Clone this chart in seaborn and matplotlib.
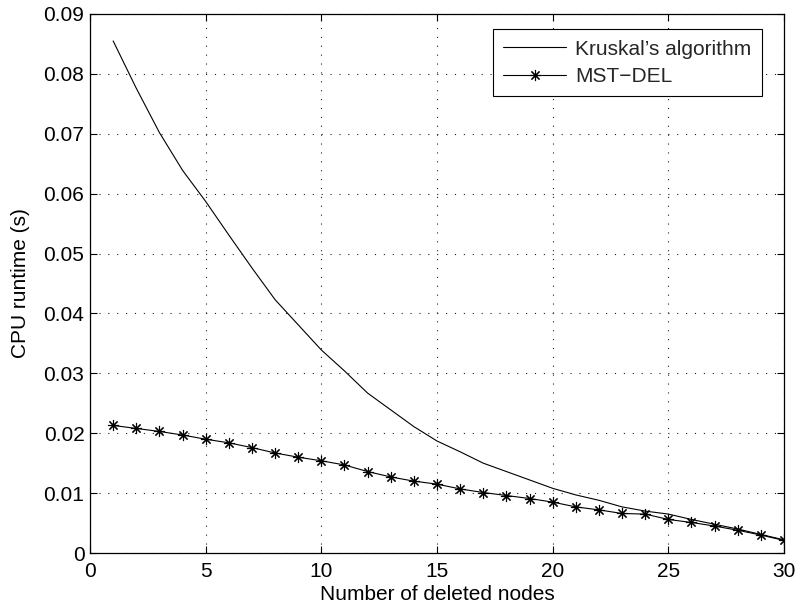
import matplotlib
matplotlib.use("Agg")
import matplotlib.pyplot as plt
import matplotlib.ticker as mticker
import seaborn as sns
import pandas as pd

nodes = list(range(1, 31))
kruskal = [0.0855, 0.0776, 0.0702, 0.0639, 0.0587, 0.0531, 0.0476, 0.0423, 0.0381, 0.0339,
           0.0304, 0.0267, 0.0239, 0.0211, 0.0187, 0.0169, 0.0150, 0.0136, 0.0122, 0.0108,
           0.0097, 0.0088, 0.0077, 0.0070, 0.0065, 0.0056, 0.0048, 0.0040, 0.0031, 0.0022]
mstdel = [0.0213, 0.0208, 0.0203, 0.0197, 0.0190, 0.0184, 0.0176, 0.0167, 0.0160, 0.0154,
          0.0147, 0.0136, 0.0127, 0.0120, 0.0115, 0.0107, 0.0101, 0.0096, 0.0091, 0.0085,
          0.0077, 0.0072, 0.0066, 0.0065, 0.0056, 0.0051, 0.0045, 0.0038, 0.0030, 0.0021]
x_ticks = [0, 5, 10, 15, 20, 25, 30]
y_ticks = [0, 0.01, 0.02, 0.03, 0.04, 0.05, 0.06, 0.07, 0.08, 0.09]

sns.set_theme(style="white")
plt.rcParams['font.family'] = ['Liberation Sans', 'DejaVu Sans']
plt.rcParams['axes.unicode_minus'] = True

df_k = pd.DataFrame({"x": nodes, "y": kruskal})
df_m = pd.DataFrame({"x": nodes, "y": mstdel})

fig = plt.figure(figsize=(7.98, 6.11), dpi=100)
ax = fig.add_axes([0.1128, 0.0949, 0.8697, 0.8822])

sns.lineplot(data=df_k, x="x", y="y", ax=ax, color="black", linewidth=0.8,
             label="Kruskal\u2019s algorithm")
sns.lineplot(data=df_m, x="x", y="y", ax=ax, color="black", linewidth=0.8,
             marker=(8, 2, 0), markersize=8, markeredgewidth=0.8,
             markeredgecolor="black", label="MST\u2212DEL")

ax.set_xlim(0, 30)
ax.set_ylim(0, 0.09)
ax.set_xticks(x_ticks)
ax.set_yticks(y_ticks)
ax.yaxis.set_major_formatter(mticker.FuncFormatter(lambda v, p: "%g" % round(v, 4)))
ax.xaxis.set_major_formatter(mticker.FuncFormatter(lambda v, p: "%g" % v))
ax.grid(True, color="#222222", linestyle=(0, (1, 7)), linewidth=0.8)
for s in ax.spines.values():
    s.set_color("black")
    s.set_linewidth(0.9)
ax.tick_params(direction="in", length=5, width=0.8, colors="black", labelsize=15,
               top=True, right=True, bottom=True, left=True)
ax.tick_params(axis="x", pad=6.5)
ax.tick_params(axis="y", pad=4)
ax.set_xlabel("Number of deleted nodes", fontsize=15, color="black", labelpad=3)
ax.set_ylabel("CPU runtime (s)", fontsize=15, color="black", labelpad=10)

leg = ax.legend(loc="upper right", bbox_to_anchor=(0.968, 0.9716), fontsize=15,
                frameon=True, fancybox=False, edgecolor="black", framealpha=1,
                handlelength=3.0, borderpad=0.5, labelspacing=0.4, handletextpad=0.45,
                borderaxespad=0)
leg.get_frame().set_linewidth(0.8)

fig.savefig("out.png", dpi=100)
